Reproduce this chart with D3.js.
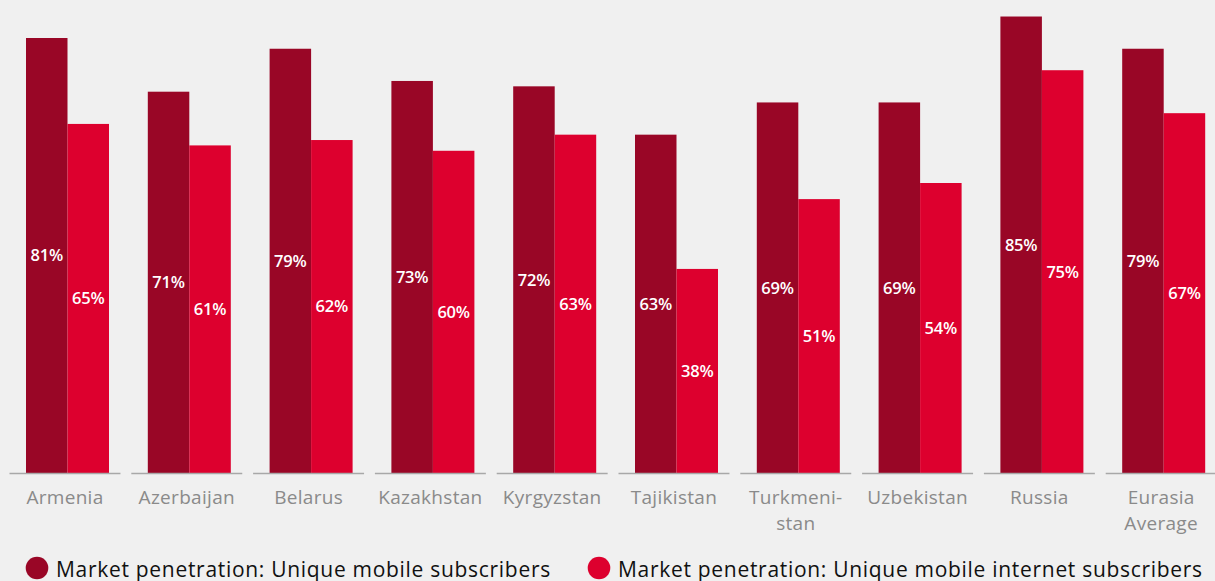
<!DOCTYPE html>
<html>
<head>
<meta charset="utf-8">
<script src="https://cdn.jsdelivr.net/npm/d3@7"></script>
<style>
  html, body { margin: 0; padding: 0; background: #f0f0f0; }
  svg { display: block; }
</style>
</head>
<body>
<svg id="chart" width="1215" height="581"></svg>
<script>
// Market penetration by country (percent)
const countries = ["Armenia", "Azerbaijan", "Belarus", "Kazakhstan", "Kyrgyzstan",
                   "Tajikistan", "Turkmeni-|stan", "Uzbekistan", "Russia", "Eurasia|Average"];
const uniqueSubscribers = [81, 71, 79, 73, 72, 63, 69, 69, 85, 79];
const internetSubscribers = [65, 61, 62, 60, 63, 38, 51, 54, 75, 67];
const seriesNames = ["Market penetration: Unique mobile subscribers",
                     "Market penetration: Unique mobile internet subscribers"];
const seriesKeys = ["unique", "internet"];
const colors = ["#990626", "#dd002e"];

const rows = countries.map((c, i) => ({
  country: c,
  unique: uniqueSubscribers[i],
  internet: internetSubscribers[i]
}));

const svg = d3.select("#chart");
const baseY = 473;
const step = 121.8;
const innerPad = 0.089;

const x0 = d3.scaleBand()
  .domain(countries)
  .range([9.5, 9.5 + step * (countries.length - innerPad)])
  .paddingInner(innerPad)
  .paddingOuter(0);

const x1 = d3.scaleBand()
  .domain(seriesKeys)
  .range([16.5, 99.5])
  .padding(0);

const y = d3.scaleLinear().domain([0, 81]).range([baseY, 38]);
const color = d3.scaleOrdinal().domain(seriesKeys).range(colors);

const font = "'Open Sans', Lato, sans-serif";

const groups = svg.append("g").selectAll("g")
  .data(rows)
  .join("g")
  .attr("transform", d => `translate(${x0(d.country)},0)`);

// bars
groups.selectAll("rect")
  .data(d => seriesKeys.map(k => ({ key: k, value: d[k] })))
  .join("rect")
  .attr("x", d => x1(d.key))
  .attr("width", x1.bandwidth())
  .attr("y", d => y(d.value))
  .attr("height", d => baseY - y(d.value))
  .attr("fill", d => color(d.key));

// value labels at the middle of each bar
groups.selectAll("text.val")
  .data(d => seriesKeys.map(k => ({ key: k, value: d[k] })))
  .join("text")
  .attr("class", "val")
  .attr("x", d => x1(d.key) + x1.bandwidth() / 2)
  .attr("y", d => (y(d.value) + baseY) / 2)
  .attr("dy", "0.36em")
  .attr("text-anchor", "middle")
  .attr("fill", "#ffffff")
  .style("font-family", font)
  .style("font-weight", "600")
  .style("font-size", "16.5px")
  .style("letter-spacing", "-0.2px")
  .text(d => d.value + "%");

// baseline segment under each group
groups.append("line")
  .attr("x1", 0)
  .attr("x2", x0.bandwidth())
  .attr("y1", baseY + 0.5)
  .attr("y2", baseY + 0.5)
  .attr("stroke", "#a8a8a8")
  .attr("stroke-width", 1.5);

// category labels
const catLabels = groups.append("text")
  .attr("x", x0.bandwidth() / 2)
  .attr("y", 504)
  .attr("text-anchor", "middle")
  .attr("fill", "#8a8a8a")
  .style("font-family", font)
  .style("font-weight", "400")
  .style("font-size", "19px")
  .style("letter-spacing", "0.3px");

catLabels.selectAll("tspan")
  .data(d => d.country.split("|"))
  .join("tspan")
  .attr("x", x0.bandwidth() / 2)
  .attr("dy", (d, i) => i === 0 ? 0 : 26)
  .text(d => d);

// legend
const legendX = [37, 599];
const legend = svg.append("g").selectAll("g")
  .data(seriesKeys)
  .join("g")
  .attr("transform", (d, i) => `translate(${legendX[i]},568)`);

legend.append("circle")
  .attr("r", 11.3)
  .attr("fill", d => color(d));

legend.append("text")
  .attr("x", 19)
  .attr("y", 8.5)
  .attr("fill", "#111111")
  .style("font-family", font)
  .style("font-size", "21px")
  .style("letter-spacing", "0.7px")
  .text((d, i) => seriesNames[i]);
</script>
</body>
</html>
